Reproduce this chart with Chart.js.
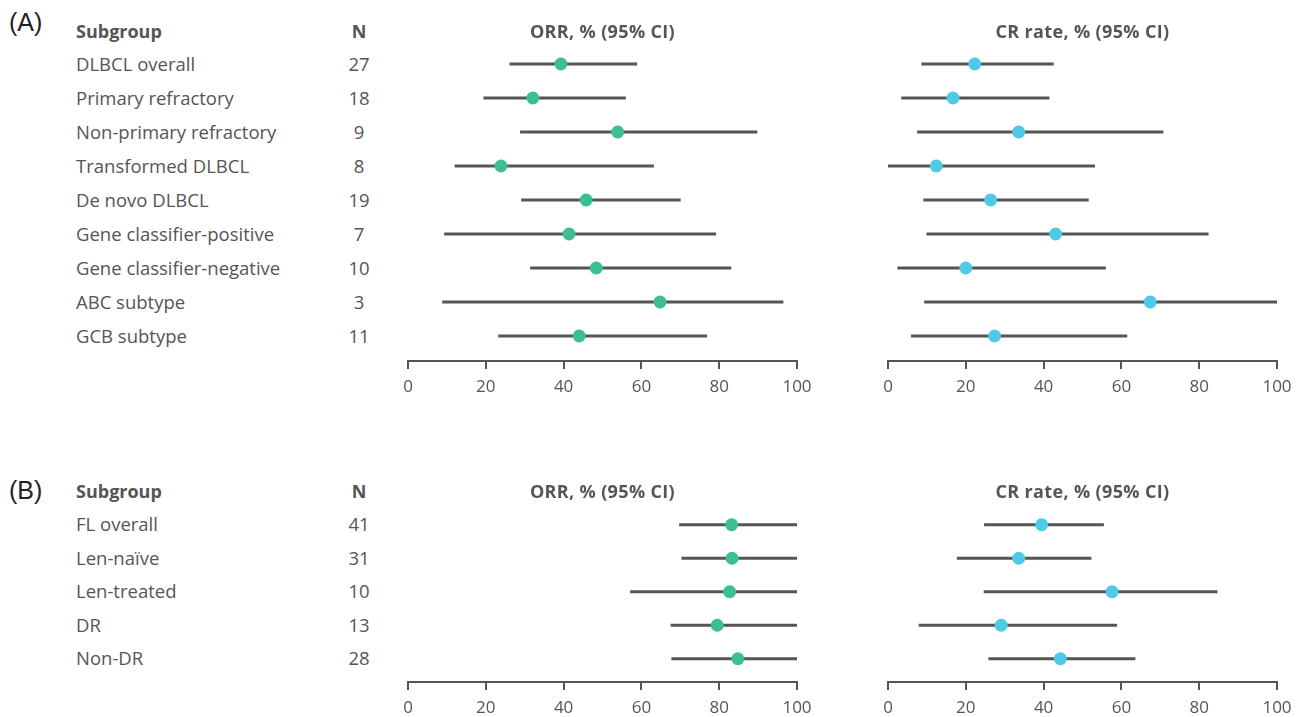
<!DOCTYPE html>
<html>
<head>
<meta charset="utf-8">
<script src="https://cdn.jsdelivr.net/npm/chart.js@4.4.1/dist/chart.umd.min.js"></script>
<style>
  body { margin: 0; background: #fff; }
  #page { position: relative; width: 1301px; height: 717px; overflow: hidden;
          font-family: "Open Sans", sans-serif; color: #555; }
  .panel-tag { position: absolute; left: 9px; font-family: "Liberation Sans", Arial, sans-serif;
               font-size: 25px; color: #222; line-height: 1; transform: translateY(-50%); }
  .txt { position: absolute; font-size: 18.5px; line-height: 1; white-space: nowrap;
         transform: translateY(-50%); }
  .bold { font-weight: bold; font-size: 18px; }
  .n { transform: translate(-50%, -50%); }
  .head { transform: translate(-50%, -50%); letter-spacing: 0.35px; }
  canvas { position: absolute; }
</style>
</head>
<body>
<div id="page">
  <div class="panel-tag" style="top:22px">(A)</div>
  <div class="panel-tag" style="top:490px">(B)</div>
  <canvas id="orrA" width="437" height="361" style="left:384px; top:40px"></canvas>
  <canvas id="crA" width="437" height="361" style="left:864px; top:40px"></canvas>
  <canvas id="orrB" width="437" height="221" style="left:384px; top:501px"></canvas>
  <canvas id="crB" width="437" height="221" style="left:864px; top:501px"></canvas>
</div>
<script>
// Panel A: DLBCL
const subgroupsA = ["DLBCL overall", "Primary refractory", "Non-primary refractory", "Transformed DLBCL",
  "De novo DLBCL", "Gene classifier-positive", "Gene classifier-negative", "ABC subtype", "GCB subtype"];
const nA = [27, 18, 9, 8, 19, 7, 10, 3, 11];
const orrA   = [39.3, 32.1, 53.9, 23.9, 45.8, 41.4, 48.4, 64.8, 44.0];
const orrLoA = [26.1, 19.4, 28.8, 12.0, 29.1,  9.3, 31.4,  8.8, 23.2];
const orrHiA = [58.9, 56.0, 89.8, 63.2, 70.1, 79.2, 83.1, 96.5, 76.9];
const crA    = [22.3, 16.7, 33.6, 12.4, 26.4, 43.1, 20.0, 67.4, 27.4];
const crLoA  = [ 8.6,  3.4,  7.5,  0.0,  9.1,  9.9,  2.4,  9.3,  5.9];
const crHiA  = [42.6, 41.5, 70.8, 53.2, 51.6, 82.4, 56.0, 100,  61.5];

// Panel B: FL
const subgroupsB = ["FL overall", "Len-naïve", "Len-treated", "DR", "Non-DR"];
const nB = [41, 31, 10, 13, 28];
const orrB   = [83.2, 83.3, 82.7, 79.5, 84.8];
const orrLoB = [69.7, 70.3, 57.1, 67.5, 67.7];
const orrHiB = [100, 100, 100, 100, 100];
const crB    = [39.5, 33.6, 57.6, 29.1, 44.3];
const crLoB  = [24.7, 17.7, 24.6,  7.9, 25.8];
const crHiB  = [55.5, 52.3, 84.7, 58.9, 63.6];

const xTicks = [0, 20, 40, 60, 80, 100];
const headers = ["Subgroup", "N", "ORR, % (95% CI)", "CR rate, % (95% CI)"];

const GREEN = "#3dbf94";
const BLUE = "#4ec9e6";
const INK = "#555555";
const FONT = "'Open Sans', sans-serif";
const CANVAS_LEFT = [384, 864];

function makeForest(id, pts, lo, hi, color, yMax) {
  const datasets = pts.map(function(p, i) {
    return {
      type: "scatter",
      showLine: true,
      data: [{ x: lo[i], y: i }, { x: hi[i], y: i }],
      borderColor: INK,
      borderWidth: 3,
      pointRadius: 0,
      order: 2
    };
  });
  datasets.push({
    type: "scatter",
    data: pts.map(function(p, i) { return { x: p, y: i }; }),
    backgroundColor: color,
    borderColor: color,
    pointRadius: 6.5,
    borderWidth: 0,
    order: 1
  });
  return new Chart(document.getElementById(id), {
    type: "scatter",
    data: { datasets: datasets },
    options: {
      responsive: false,
      animation: false,
      devicePixelRatio: 1,
      layout: { padding: { left: 24, right: 24, top: 7, bottom: 0 } },
      scales: {
        x: {
          type: "linear",
          min: xTicks[0],
          max: xTicks[xTicks.length - 1],
          afterBuildTicks: function(scale) { scale.ticks = xTicks.map(function(v) { return { value: v }; }); },
          afterFit: function(scale) { scale.height = 40; },
          grid: { drawOnChartArea: false, drawTicks: true, tickLength: 8, color: INK, lineWidth: 2 },
          border: { display: true, color: INK, width: 2 },
          ticks: { color: INK, font: { family: FONT, size: 17 }, padding: 8 }
        },
        y: {
          type: "linear",
          display: false,
          reverse: true,
          min: -0.5,
          max: yMax
        }
      },
      plugins: { legend: { display: false }, tooltip: { enabled: false } }
    }
  });
}

function addText(text, left, top, cls) {
  const el = document.createElement("div");
  el.className = "txt " + cls;
  el.textContent = text;
  el.style.left = left + "px";
  el.style.top = top + "px";
  document.getElementById("page").appendChild(el);
}

function buildPanel(chartOrr, chartCr, canvasTop, headerY, groups, ns) {
  const ys = chartOrr.scales.y;
  groups.forEach(function(g, i) {
    const y = canvasTop + ys.getPixelForValue(i) - 0.5;
    addText(g, 76, y, "");
    addText(String(ns[i]), 359, y, "n");
  });
  addText(headers[0], 76, headerY, "bold");
  addText(headers[1], 359, headerY, "bold n");
  const ao = chartOrr.chartArea, ac = chartCr.chartArea;
  addText(headers[2], CANVAS_LEFT[0] + (ao.left + ao.right) / 2, headerY, "bold head");
  addText(headers[3], CANVAS_LEFT[1] + (ac.left + ac.right) / 2, headerY, "bold head");
}

const cOrrA = makeForest("orrA", orrA, orrLoA, orrHiA, GREEN, 8.735);
const cCrA = makeForest("crA", crA, crLoA, crHiA, BLUE, 8.735);
const cOrrB = makeForest("orrB", orrB, orrLoB, orrHiB, GREEN, 4.694);
const cCrB = makeForest("crB", crB, crLoB, crHiB, BLUE, 4.694);

buildPanel(cOrrA, cCrA, 40, 31, subgroupsA, nA);
buildPanel(cOrrB, cCrB, 501, 491, subgroupsB, nB);
</script>
</body>
</html>
